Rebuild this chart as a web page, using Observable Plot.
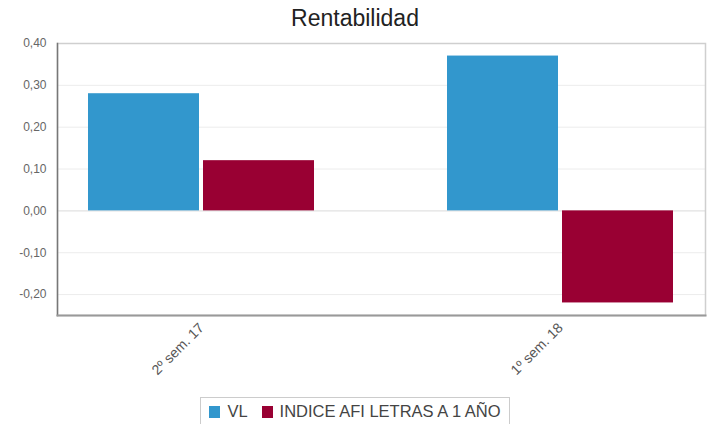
<!DOCTYPE html>
<html>
<head>
<meta charset="utf-8">
<script src="https://cdn.jsdelivr.net/npm/d3@7"></script>
<script src="https://cdn.jsdelivr.net/npm/@observablehq/plot@0.6"></script>
<style>
  body { margin: 0; background: #fff; font-family: "Liberation Sans", Arial, sans-serif; }
  #title { height: 34px; line-height: 36px; text-align: center; font-size: 23px; color: #222; }
  #legend { display: flex; justify-content: center; margin-top: 8px; }
  #legend .box { border: 1px solid #ccc; padding: 4px 8px 6px 8px; display: flex; align-items: center; font-size: 16.5px; color: #444; }
  #legend .sw { width: 11px; height: 12px; display: inline-block; margin-right: 7px; }
  #legend .item { display: flex; align-items: center; margin-right: 14px; }
  #legend .item:last-child { margin-right: 0; }
</style>
</head>
<body>
<div id="title">Rentabilidad</div>
<div id="chart"></div>
<div id="legend"></div>
<script>
const categories = ["2º sem. 17", "1º sem. 18"];
const seriesNames = ["VL", "INDICE AFI LETRAS A 1 AÑO"];
const vl = [0.28, 0.37];
const indice = [0.12, -0.22];
const yTicks = [-0.2, -0.1, 0, 0.1, 0.2, 0.3, 0.4];
const colors = ["#3297cd", "#990033"];

const rows = categories.flatMap((c, i) => [
  {cat: c, series: seriesNames[0], value: vl[i]},
  {cat: c, series: seriesNames[1], value: indice[i]}
]);

const fmt = d => d.toFixed(2).replace(".", ",");

const xScale = {type: "band", domain: categories, paddingInner: 0.37, paddingOuter: 0.087};
const base = {
  width: 710, height: 355,
  marginTop: 9, marginBottom: 74, marginLeft: 57, marginRight: 5,
  style: {fontFamily: "'Liberation Sans', Arial, sans-serif", background: "#fff"},
  x: xScale,
  y: {domain: [-0.25, 0.4]},
  color: {domain: seriesNames, range: colors}
};

const probe = Plot.plot({...base, marks: [Plot.barY(rows, {x: "cat", y: "value"})]});
const bw = probe.scale("x").bandwidth;
const half = bw / 2 + 2;

const chart = Plot.plot({
  ...base,
  marks: [
    Plot.gridY(yTicks, {stroke: "#ececec", strokeOpacity: 1}),
    Plot.ruleY([0], {stroke: "#e2e2e2"}),
    Plot.barY(rows.filter(d => d.series === seriesNames[0]), {x: "cat", y: "value", fill: "series", insetRight: half}),
    Plot.barY(rows.filter(d => d.series === seriesNames[1]), {x: "cat", y: "value", fill: "series", insetLeft: half}),
    Plot.frame({stroke: "#cfcfcf", strokeWidth: 1.5}),
    Plot.frame({anchor: "left", stroke: "#777", strokeWidth: 1.5}),
    Plot.frame({anchor: "bottom", stroke: "#999", strokeWidth: 2}),
    Plot.axisY({ticks: yTicks, tickFormat: fmt, tickSize: 0, tickPadding: 11, fontSize: 12, fill: "#666", label: null}),
    Plot.axisX({tickRotate: -45, tickSize: 0, tickPadding: 10, fontSize: 14, fill: "#555", label: null})
  ]
});
document.getElementById("chart").appendChild(chart);

const legend = document.getElementById("legend");
const box = document.createElement("div");
box.className = "box";
seriesNames.forEach((s, i) => {
  const item = document.createElement("span");
  item.className = "item";
  const sw = document.createElement("span");
  sw.className = "sw";
  sw.style.background = colors[i];
  item.appendChild(sw);
  item.appendChild(document.createTextNode(s));
  box.appendChild(item);
});
legend.appendChild(box);
</script>
</body>
</html>
